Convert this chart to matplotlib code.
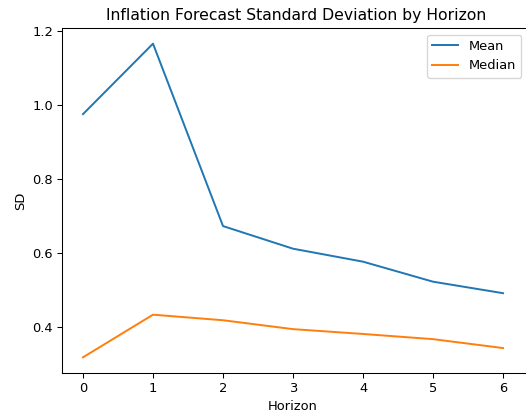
import matplotlib
matplotlib.use("Agg")
import matplotlib.pyplot as plt

# 예측 기간별 표준편차
horizon = [0, 1, 2, 3, 4, 5, 6]
sd_mean = [0.975, 1.165, 0.673, 0.612, 0.577, 0.523, 0.492]
sd_median = [0.319, 0.434, 0.419, 0.395, 0.382, 0.368, 0.344]

# 원본이 약간 축소되고 오른쪽이 잘린 이미지라서 dpi 94로 맞춤
dpi = 94
fig = plt.figure(figsize=(526 / dpi, 419 / dpi), dpi=dpi)
ax = fig.add_axes([62 / 526, 46 / 419, 466 / 526, 345 / 419])

ax.plot(horizon, sd_mean, label='Mean')
ax.plot(horizon, sd_median, label='Median')
ax.set_xlim(-0.3, 6.357)
ax.set_title('Inflation Forecast Standard Deviation by Horizon', x=458 / 466 * 0.5 + 0.01)
ax.set_xlabel('Horizon', x=0.5 - 0.004)
ax.set_ylabel('SD')
ax.legend(loc='upper right')

fig.savefig("out.png", dpi=dpi)
